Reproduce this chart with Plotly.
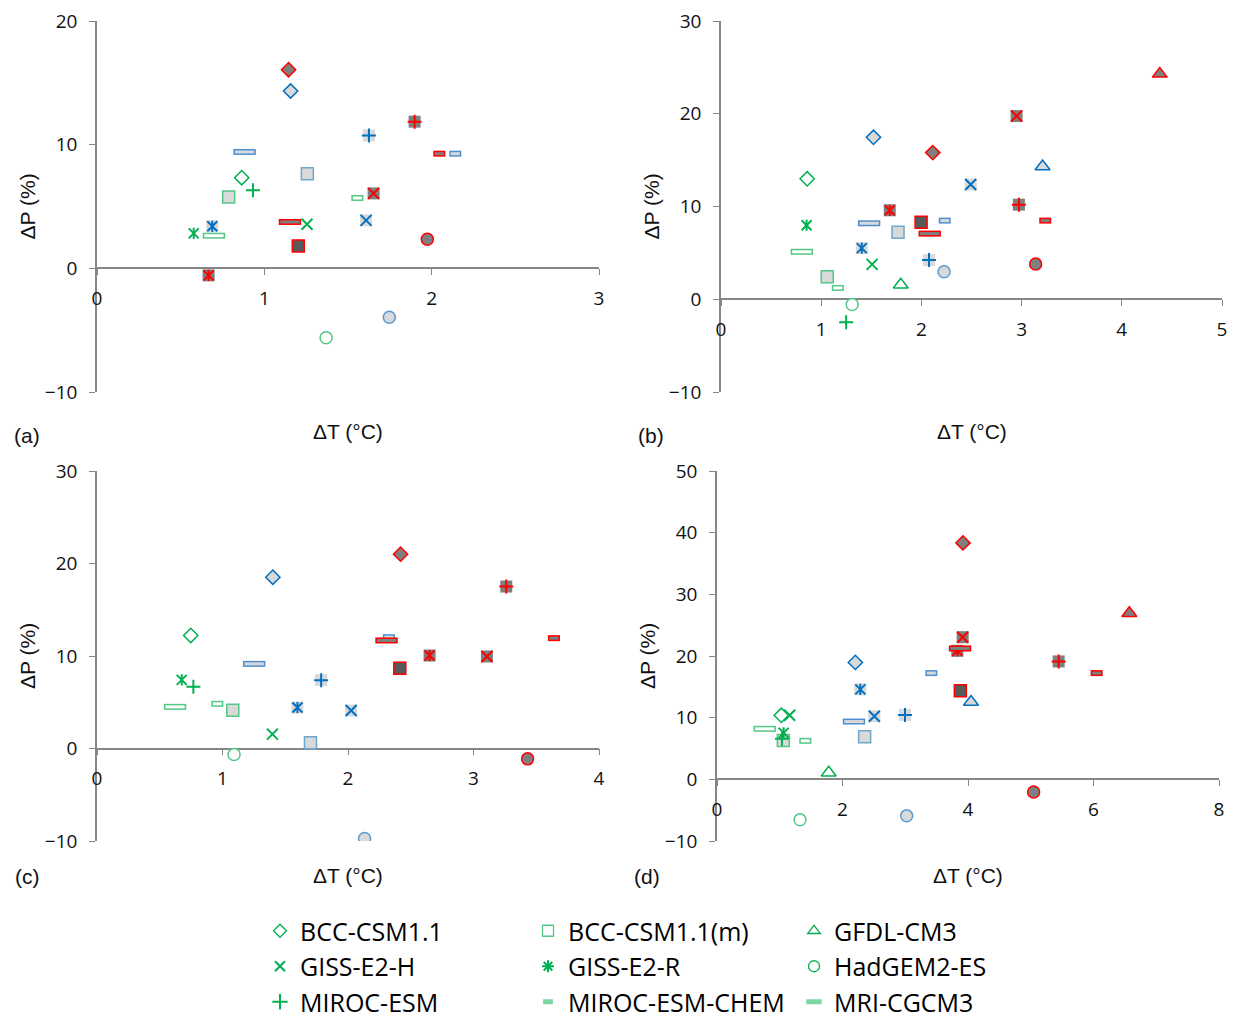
import plotly.graph_objects as go

# ---------------- data ----------------
models = ["BCC-CSM1.1", "BCC-CSM1.1(m)", "GFDL-CM3", "GISS-E2-H", "GISS-E2-R",
          "HadGEM2-ES", "MIROC-ESM", "MIROC-ESM-CHEM", "MRI-CGCM3"]
panel_labels = ["(a)", "(b)", "(c)", "(d)"]
x_title = "ΔT (°C)"
y_title = "ΔP (%)"

# panel (a)
a_green_T = [0.865, 0.787, None, 1.255, 0.578, 1.369, 0.932, 1.556, 0.699]
a_green_P = [7.33, 5.77, None, 3.56, 2.83, -5.61, 6.31, 5.69, 2.64]
a_blue_T = [1.157, 1.257, None, 1.608, 0.689, 1.747, 1.625, 2.141, 0.882]
a_blue_P = [14.34, 7.65, None, 3.88, 3.40, -3.96, 10.75, 9.27, 9.41]
a_red_T = [1.145, 1.203, None, 1.653, 0.667, 1.974, 1.898, 2.046, 1.153]
a_red_P = [16.06, 1.81, None, 6.06, -0.57, 2.35, 11.86, 9.27, 3.75]

# panel (b)
b_green_T = [0.860, 1.060, 1.794, 1.508, 0.854, 1.309, 1.249, 1.166, 0.807]
b_green_P = [12.99, 2.43, 1.57, 3.76, 7.98, -0.57, -2.47, 1.22, 5.12]
b_blue_T = [1.522, 1.767, 3.209, 2.492, 1.405, 2.226, 2.076, 2.233, 1.478]
b_blue_P = [17.46, 7.23, 14.31, 12.38, 5.51, 2.97, 4.22, 8.48, 8.19]
b_red_T = [2.113, 1.997, 4.379, 2.950, 1.684, 3.140, 2.973, 3.236, 2.083]
b_red_P = [15.81, 8.30, 24.3, 19.75, 9.59, 3.79, 10.20, 8.48, 7.08]

# panel (c)
c_green_T = [0.747, 1.082, None, 1.398, 0.675, 1.092, 0.768, 0.959, 0.622]
c_green_P = [12.22, 4.14, None, 1.55, 7.42, -0.65, 6.67, 4.83, 4.50]
c_blue_T = [1.401, 1.701, None, 2.025, 1.597, 2.132, 1.786, 2.326, 1.252]
c_blue_P = [18.52, 0.61, None, 4.11, 4.43, -9.73, 7.39, 12.04, 9.15]
c_red_T = [2.419, 2.413, None, 3.107, 2.650, 3.431, 3.261, 3.641, 2.307]
c_red_P = [21.01, 8.68, None, 9.95, 10.05, -1.12, 17.51, 11.93, 11.68]

# panel (d)
d_green_T = [1.025, 1.057, 1.780, 1.158, 1.062, 1.323, 1.036, 1.408, 0.760]
d_green_P = [10.39, 6.30, 1.08, 10.39, 7.54, -6.57, 6.60, 6.25, 8.19]
d_blue_T = [2.205, 2.353, 4.048, 2.507, 2.284, 3.023, 2.996, 3.416, 2.183]
d_blue_P = [18.96, 6.89, 12.55, 10.23, 14.59, -5.92, 10.45, 17.23, 9.37]
d_red_T = [3.920, 3.878, 6.571, 3.915, 3.830, 5.046, 5.445, 6.050, 3.873]
d_red_P = [38.34, 14.38, 26.93, 23.05, 20.84, -2.05, 19.12, 17.23, 21.22]

x_ranges = [[0, 3], [0, 5], [0, 4], [0, 8]]
x_dticks = [1, 1, 1, 2]
y_ranges = [[-10, 20], [-10, 30], [-10, 30], [-10, 50]]

panels = [
    [(a_green_T, a_green_P), (a_blue_T, a_blue_P), (a_red_T, a_red_P)],
    [(b_green_T, b_green_P), (b_blue_T, b_blue_P), (b_red_T, b_red_P)],
    [(c_green_T, c_green_P), (c_blue_T, c_blue_P), (c_red_T, c_red_P)],
    [(d_green_T, d_green_P), (d_blue_T, d_blue_P), (d_red_T, d_red_P)],
]

# ---------------- styling / layout ----------------
W, H = 1233, 1019
GREEN, BLUE, RED = "#00b050", "#0070c0", "#ff0000"
LIGHT, DARK, DARKSQ = "#d9d9d9", "#7f7f7f", "#595959"
AXIS = "#868686"

# pixel boxes of the plot areas: (x0, x1), (ytop, ybottom)
boxes = [((97, 599), (21, 392)), ((721, 1222), (21, 392)),
         ((97, 599), (471, 841)), ((717, 1219), (471, 841))]


def px(x):
    return x / W


def py(y):
    return 1 - y / H


def layers(m, s):
    line = [GREEN, BLUE, RED][s]
    fill = ["white", LIGHT, DARK][s]
    if m == 0:
        return [dict(symbol="diamond", size=11, color=fill, lc=line, lw=1.5)]
    if m == 1:
        return [dict(symbol="square", size=12, color=[LIGHT, LIGHT, DARKSQ][s],
                     lc=["#52c884", "#6ea8cc", RED][s], lw=1.5)]
    if m == 2:
        return [dict(symbol="triangle-up", size=13, color=fill, lc=line, lw=1.5)]
    if m == 5:
        return [dict(symbol="circle", size=12, color=fill,
                     lc=["#52c884", "#5b9bd5", RED][s], lw=1.5)]
    if m in (3, 4, 6):
        out = []
        if s > 0:
            out.append(dict(symbol="square", size=12, color=[None, LIGHT, DARK][s], lc=None, lw=0))
        if m == 3:
            out.append(dict(symbol="x-thin-open", size=11, color=line, lc=None, lw=2))
        elif m == 4:
            out.append(dict(symbol="x-thin-open", size=10, color=line, lc=None, lw=2))
            out.append(dict(symbol="line-ns-open", size=8, color=line, lc=None, lw=2))
        else:
            out.append(dict(symbol="cross-thin-open", size=10, color=line, lc=None, lw=2))
        return out
    if m == 7:
        edge = ["#52c884", "#4f8fd0", RED][s]
        return [dict(symbol="line-ew-open", size=8.6, color=edge, lc=None, lw=6),
                dict(symbol="line-ew-open", size=6.4, color=fill, lc=None, lw=3)]
    if m == 8:
        edge = ["#52c884", "#4f8fd0", RED][s]
        return [dict(symbol="line-ew-open", size=16, color=edge, lc=None, lw=6),
                dict(symbol="line-ew-open", size=13.8, color=fill, lc=None, lw=3)]


fig = go.Figure()

for p, series in enumerate(panels):
    xa = "x" if p == 0 else f"x{p+1}"
    ya = "y" if p == 0 else f"y{p+1}"
    for s, (T, P) in enumerate(series):
        for m in range(len(models)):
            if T[m] is None:
                continue
            for L in layers(m, s):
                mk = dict(symbol=L["symbol"], size=L["size"], color=L["color"],
                          line=dict(width=L["lw"], color=L["lc"] if L["lc"] else L["color"]))
                fig.add_trace(go.Scatter(x=[T[m]], y=[P[m]], mode="markers", marker=mk,
                                         xaxis=xa, yaxis=ya, showlegend=False,
                                         hoverinfo="skip"))

# legend entries (green style), three column legends
legend_markers = [
    dict(symbol="diamond-open", size=10, color=GREEN, line=dict(width=1.3)),
    dict(symbol="square-open", size=11, color="#52c884", line=dict(width=1.3)),
    dict(symbol="triangle-up-open", size=11, color=GREEN, line=dict(width=1.3)),
    dict(symbol="x-thin-open", size=10, color=GREEN, line=dict(width=2)),
    dict(symbol="asterisk-open", size=10, color=GREEN, line=dict(width=2)),
    dict(symbol="circle-open", size=11, color=GREEN, line=dict(width=1.3)),
    dict(symbol="cross-thin-open", size=11, color=GREEN, line=dict(width=2)),
    dict(symbol="line-ew-open", size=7, color="#7fd6a3", line=dict(width=5)),
    dict(symbol="line-ew-open", size=11, color="#7fd6a3", line=dict(width=5)),
]
legend_ids = ["legend", "legend2", "legend3"]
for m, name in enumerate(models):
    fig.add_trace(go.Scatter(x=[None], y=[None], mode="markers", name=name,
                             marker=legend_markers[m], xaxis="x", yaxis="y",
                             showlegend=True, legend=legend_ids[m % 3]))

legend_font = dict(family="Open Sans", size=25, color="#000000")
legend_left = [260, 528, 794]
layout = dict(
    width=W, height=H, margin=dict(l=0, r=0, t=0, b=0, autoexpand=False),
    paper_bgcolor="white", plot_bgcolor="white",
    showlegend=True,
    font=dict(family="Open Sans", color="#111111"),
)
for i, lid in enumerate(legend_ids):
    layout[lid] = dict(orientation="v", x=px(legend_left[i]), y=py(908),
                       xanchor="left", yanchor="top", font=legend_font,
                       tracegroupgap=0, bgcolor="rgba(0,0,0,0)", borderwidth=0)

annotations = []
for p in range(4):
    (x0, x1), (yt, yb) = boxes[p]
    xkey = "xaxis" if p == 0 else f"xaxis{p+1}"
    ykey = "yaxis" if p == 0 else f"yaxis{p+1}"
    ylo, yhi = y_ranges[p]
    dom_b, dom_t = py(yb), py(yt)
    zero_pos = dom_b + (0 - ylo) / (yhi - ylo) * (dom_t - dom_b)
    xanc = "x" if p == 0 else f"x{p+1}"
    layout[xkey] = dict(domain=[px(x0), px(x1)], range=x_ranges[p], dtick=x_dticks[p],
                        tick0=0, anchor="free", position=zero_pos,
                        showline=True, linecolor=AXIS, linewidth=1.5,
                        ticks="outside", ticklen=6, tickcolor=AXIS, tickwidth=1.3,
                        showgrid=False, zeroline=False, ticklabelstandoff=7,
                        tickfont=dict(family="Open Sans", size=19, color="#111111"),
                        layer="below traces", fixedrange=True)
    layout[ykey] = dict(domain=[dom_b, dom_t], range=y_ranges[p], dtick=10, tick0=0,
                        anchor=xanc, showline=True, linecolor=AXIS, linewidth=1.5,
                        ticks="outside", ticklen=6, tickcolor=AXIS, tickwidth=1.3,
                        showgrid=False, zeroline=False, ticklabelstandoff=8,
                        tickfont=dict(family="Open Sans", size=19, color="#111111"),
                        layer="below traces", fixedrange=True)
    ann_font = dict(family="Liberation Sans", size=21, color="#111111")
    annotations.append(dict(text=x_title, x=px((x0 + x1) / 2), y=py(432 if p < 2 else 875),
                            xref="paper", yref="paper", showarrow=False,
                            xanchor="center", yanchor="middle", font=ann_font))
    annotations.append(dict(text=y_title, x=px(x0 - 70), y=py((yt + yb) / 2),
                            xref="paper", yref="paper", showarrow=False, textangle=-90,
                            xanchor="center", yanchor="middle", font=ann_font))
    annotations.append(dict(text=panel_labels[p], x=px(x0 - 70), y=py(435 if p < 2 else 876),
                            xref="paper", yref="paper", showarrow=False,
                            xanchor="center", yanchor="middle", font=ann_font))

layout["annotations"] = annotations
fig.update_layout(**layout)

fig.write_html("out.html", include_plotlyjs=True, config=dict(displayModeBar=False))
